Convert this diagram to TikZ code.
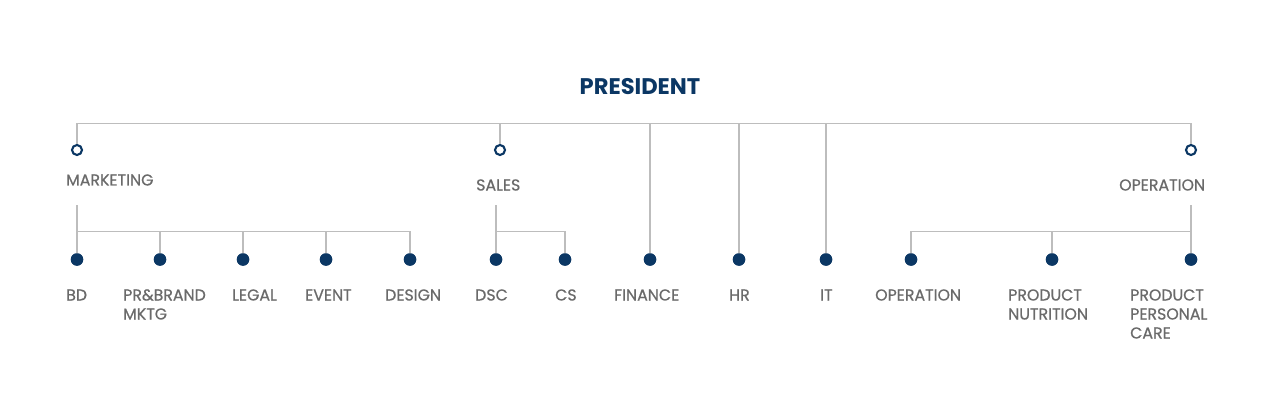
\documentclass[tikz,border=0pt]{standalone}
\usepackage{fontspec}
\setmainfont{Poppins}
\definecolor{navy}{HTML}{0B3764}
\definecolor{linegray}{HTML}{BDBDBD}
\definecolor{txtgray}{HTML}{6A6A6A}
\begin{document}
\begin{tikzpicture}[x=1pt,y=-1pt,
  conn/.style={draw=linegray,line width=1.1pt},
  hollow/.style={circle,draw=navy,line width=2.1pt,fill=white,minimum size=10pt,inner sep=0pt},
  solid/.style={circle,fill=navy,minimum size=12.5pt,inner sep=0pt},
  lbl/.style={anchor=base west,inner sep=0pt,text=txtgray,font=\fontsize{15.8}{19}\selectfont\addfontfeatures{FakeBold=0.6},align=left},
  title/.style={anchor=base,inner sep=0pt,text=navy,font=\fontsize{22.6}{24}\selectfont\bfseries}]
\useasboundingbox (0,0) rectangle (1280,393);
\fill[white] (0,0) rectangle (1280,393);
% title
\node[title] (pres) at (640,95) {PRESIDENT};
% top bus coordinates
\coordinate (tl) at (77,123.5);
\coordinate (tr) at (1191,123.5);
\draw[conn] (tl) -- (tr);
% hollow circles
\node[hollow] (mk) at (77,150) {};
\node[hollow] (sa) at (500,150) {};
\node[hollow] (op) at (1191,150) {};
\coordinate (bsa) at (500,123.5);
\draw[conn] (tl) -- (mk.north);
\draw[conn] (bsa) -- (sa.north);
\draw[conn] (tr) -- (op.north);
% top labels
\node[lbl] (lmk) at (66,185.5) {MARKETING};
\node[lbl] (lsa) at (476,190.5) {SALES};
\node[lbl] (lop) at (1119,190.5) {OPERATION};
% bottom dots
\foreach \n/\x in {bd/77,pr/160,lg/243,ev/326,ds/410,dsc/496,cs/565,fi/650,hr/739,it/826,opx/911,pn/1052,pc/1191}
  \node[solid] (\n) at (\x,259.5) {};
% marketing branch
\coordinate (mkt) at (77,205);
\coordinate (mkj) at (77,231.5);
\coordinate (mke) at (410,231.5);
\draw[conn] (mkt) -- (bd.center);
\draw[conn] (mkj) -- (mke) -- (ds.center);
\foreach \n in {pr,lg,ev}
  \draw[conn] (\n.center |- mkj) -- (\n.center);
% sales branch
\coordinate (sat) at (496,205);
\coordinate (saj) at (496,231.5);
\coordinate (sae) at (565,231.5);
\draw[conn] (sat) -- (dsc.center);
\draw[conn] (saj) -- (sae) -- (cs.center);
% direct
\foreach \n in {fi,hr,it}
  \draw[conn] (\n.center |- tl) -- (\n.center);
% operation branch
\coordinate (opt) at (1191,205);
\coordinate (opj) at (1191,231.5);
\coordinate (ops) at (911,231.5);
\draw[conn] (opt) -- (pc.center);
\draw[conn] (opj) -- (ops) -- (opx.center);
\draw[conn] (pn.center |- opj) -- (pn.center);
% redraw dots on top
\foreach \n/\x in {bd/77,pr/160,lg/243,ev/326,ds/410,dsc/496,cs/565,fi/650,hr/739,it/826,opx/911,pn/1052,pc/1191}
  \fill[navy] (\x,259.5) circle (6.2pt);
% bottom labels (base = baseline of last line)
\node[lbl] (tbd) at (66,300.5) {BD};
\node[lbl] (tpr) at (123,319.5) {PR\&BRAND\\MKTG};
\node[lbl] (tlg) at (232,300.5) {LEGAL};
\node[lbl] (tev) at (305,300.5) {EVENT};
\node[lbl] (tds) at (385,300.5) {DESIGN};
\node[lbl] (tdsc) at (475,300.5) {DSC};
\node[lbl] (tcs) at (555,300.5) {CS};
\node[lbl] (tfi) at (614,300.5) {FINANCE};
\node[lbl] (thr) at (729,300.5) {HR};
\node[lbl] (tit) at (820,300.5) {IT};
\node[lbl] (top) at (875,300.5) {OPERATION};
\node[lbl] (tpn) at (1008,319.5) {PRODUCT\\NUTRITION};
\node[lbl] (tpc) at (1130,338.5) {PRODUCT\\PERSONAL\\CARE};
\end{tikzpicture}
\end{document}
